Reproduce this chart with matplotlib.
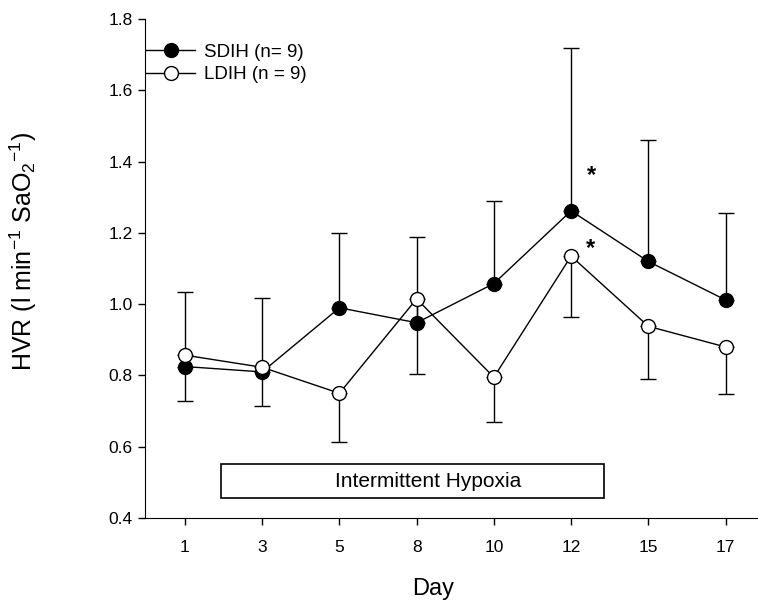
import matplotlib.pyplot as plt
import numpy as np
from matplotlib.patches import Rectangle
from matplotlib.lines import Line2D

plt.rcParams['font.family'] = ['Liberation Sans', 'DejaVu Sans']
plt.rcParams['mathtext.fontset'] = 'custom'
plt.rcParams['mathtext.rm'] = 'Liberation Sans'
plt.rcParams['mathtext.it'] = 'Liberation Sans'

days = ['1', '3', '5', '8', '10', '12', '15', '17']
sdih = [0.825, 0.81, 0.99, 0.948, 1.058, 1.262, 1.12, 1.012]
sdih_err_up = [0.21, 0.207, 0.21, 0.242, 0.232, 0.458, 0.34, 0.243]
ldih = [0.857, 0.823, 0.75, 1.015, 0.795, 1.135, 0.938, 0.88]
ldih_err_down = [0.13, 0.11, 0.138, 0.21, 0.127, 0.17, 0.148, 0.132]

x = np.arange(len(days))

fig = plt.figure(figsize=(7.58, 6), dpi=100)
ax = fig.add_axes([0.191, 0.1367, 0.809, 0.8313])

ax.errorbar(x, sdih, yerr=[np.zeros(len(x)), sdih_err_up], color='black',
            lw=1.0, elinewidth=1.0, capsize=6, capthick=1.0,
            marker='o', ms=10, mfc='black', mec='black', zorder=3)
ax.errorbar(x, ldih, yerr=[ldih_err_down, np.zeros(len(x))], color='black',
            lw=1.0, elinewidth=1.0, capsize=6, capthick=1.0,
            marker='o', ms=10, mfc='white', mec='black', zorder=4)

# significance markers
ax.text(5.27, 1.36, '*', fontsize=17, ha='center', va='center', fontweight='bold')
ax.text(5.25, 1.155, '*', fontsize=17, ha='center', va='center', fontweight='bold')

# intermittent hypoxia bar
ax.add_patch(Rectangle((0.47, 0.456), 4.95, 0.095, fill=False, ec='black', lw=1.2))
ax.text(3.15, 0.503, 'Intermittent Hypoxia', ha='center', va='center', fontsize=15)

ax.set_xlim(-0.52, 7.42)
ax.set_ylim(0.4, 1.8)
ax.set_xticks(x)
ax.set_xticklabels(days)
ax.set_yticks(np.arange(0.4, 1.81, 0.2))
ax.set_yticklabels([f'{v:.1f}' for v in np.arange(0.4, 1.81, 0.2)])
ax.tick_params(direction='out', length=5, labelsize=12.5, width=1)
ax.tick_params(axis='x', pad=11)
ax.spines['top'].set_visible(False)
ax.spines['right'].set_visible(False)

ax.set_xlabel('Day', fontsize=17)
ax.xaxis.set_label_coords(0.47, -0.12)
ax.set_ylabel('HVR (l min$^{-1}$ SaO$_2$$^{-1}$)', fontsize=18)
ax.yaxis.set_label_coords(-0.172, 0.535)

handles = [
    Line2D([], [], color='black', lw=1.0, marker='o', ms=10, mfc='black', mec='black'),
    Line2D([], [], color='black', lw=1.0, marker='o', ms=10, mfc='white', mec='black'),
]
ax.legend(handles, ['SDIH (n= 9)', 'LDIH (n = 9)'], loc='upper left',
          bbox_to_anchor=(-0.025, 0.985), frameon=False, fontsize=13.5,
          handlelength=2.6, handletextpad=0.5, labelspacing=0.3)

fig.savefig('out.png', dpi=100)
